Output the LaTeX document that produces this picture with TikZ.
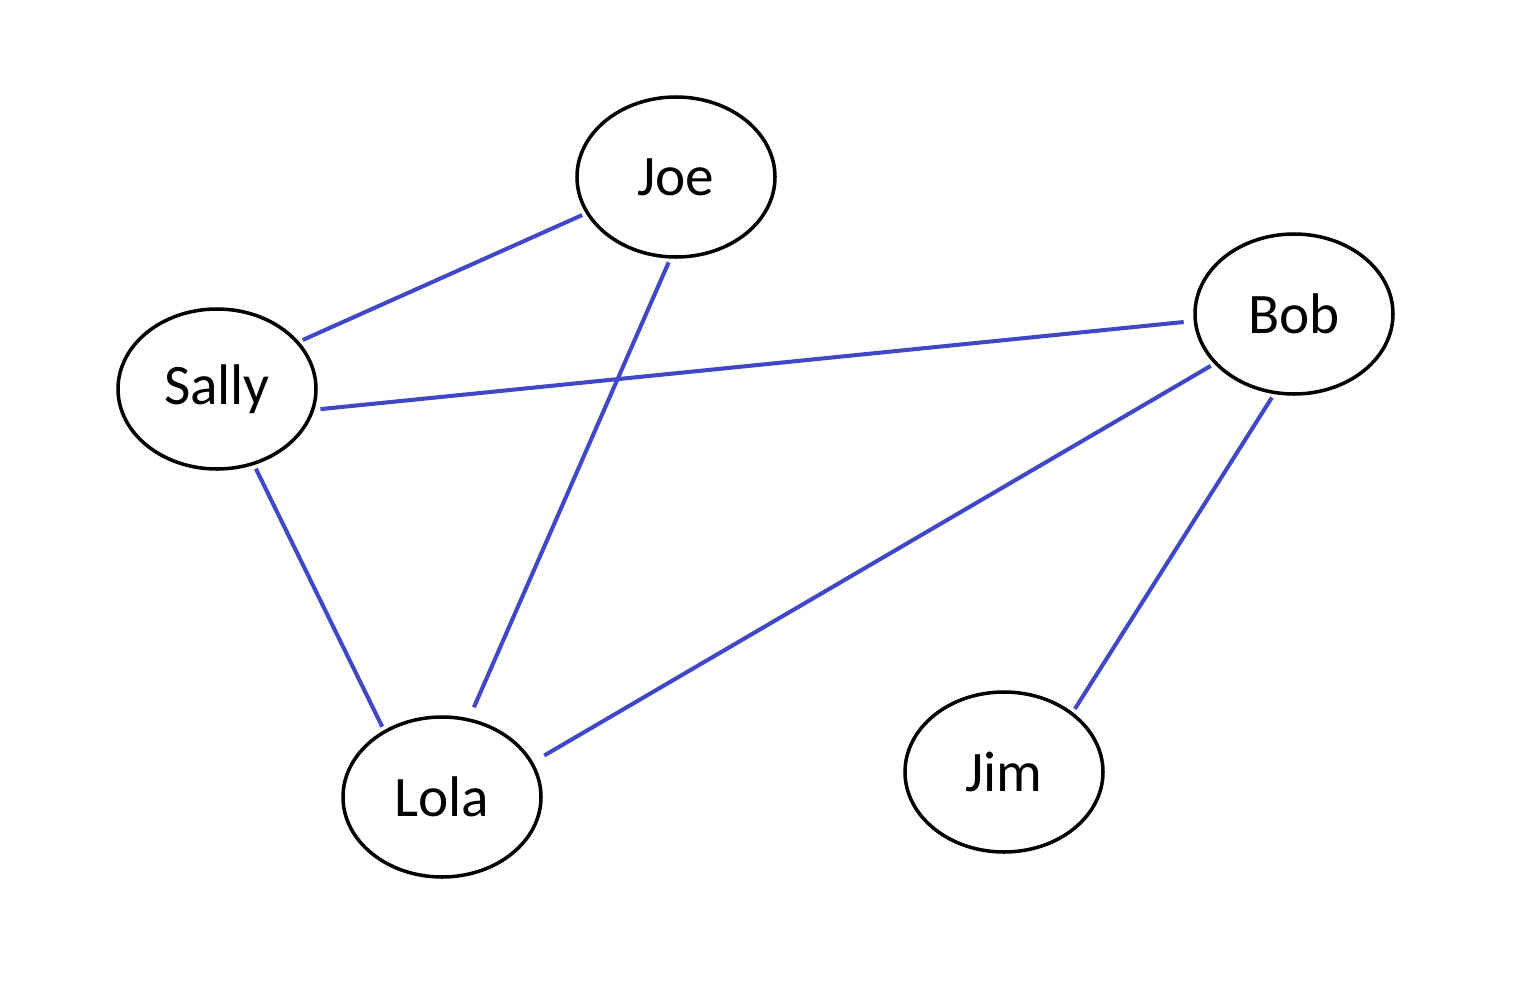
\documentclass[tikz,border=0pt]{standalone}
\usepackage{fontspec}
\setmainfont{Carlito}
\usetikzlibrary{shapes.geometric}
\definecolor{edgeblue}{RGB}{64,72,200}
\begin{document}
\begin{tikzpicture}
\useasboundingbox (0,0) rectangle (15.35,9.86);
\tikzset{
  person/.style={ellipse, draw=black, line width=1pt, minimum width=1.98cm, minimum height=1.60cm, inner sep=0pt, font=\fontsize{16.3}{20}\selectfont},
  link/.style={draw=edgeblue, line width=1.15pt, shorten <=0.04cm, shorten >=0.04cm}
}
\node[person] (joe) at (6.76,8.09) {Joe};
\node[person] (sally) at (2.17,5.97) {Sally};
\node[person] (bob) at (12.94,6.72) {Bob};
\node[person] (lola) at (4.42,1.89) {Lola};
\node[person] (jim) at (10.04,2.14) {Jim};
\draw[link] (sally.30) -- (joe.202);
\draw[link, shorten >=0.12cm] (joe.266) -- (lola.71);
\draw[link, shorten <=0.06cm, shorten >=0.1cm] (sally.-12) -- (bob.184);
\draw[link, shorten >=0.13cm] (bob.212) -- (lola.21);
\draw[link] (bob.256) -- (jim.41);
\draw[link] (sally.-64) -- (lola.131);
\end{tikzpicture}
\end{document}
